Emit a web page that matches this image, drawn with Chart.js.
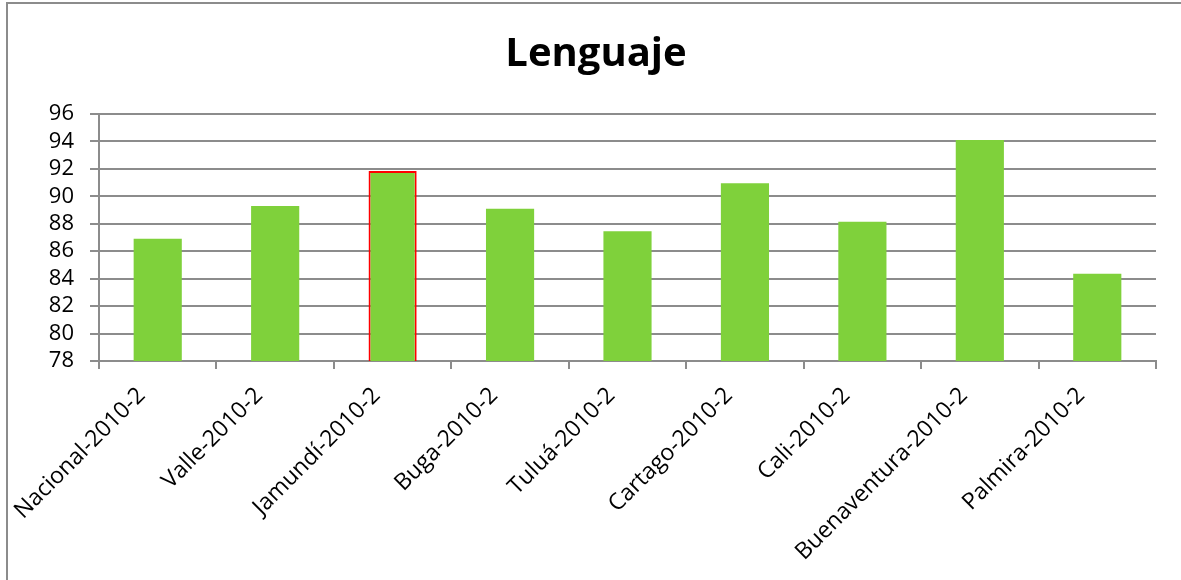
<!DOCTYPE html>
<html>
<head>
<meta charset="utf-8">
<script src="https://cdn.jsdelivr.net/npm/chart.js@4/dist/chart.umd.min.js"></script>
<style>
  html, body { margin: 0; padding: 0; background: #fff; }
  #wrap { position: relative; width: 1181px; height: 580px; overflow: hidden; }
  #frame { position: absolute; left: 6px; top: 2px; width: 1200px; height: 600px;
           border-left: 2px solid #8c8c8c; border-top: 2px solid #8c8c8c; }
  canvas { position: absolute; left: 0; top: 0; }
</style>
</head>
<body>
<div id="wrap">
  <div id="frame"></div>
  <canvas id="chart" width="1181" height="580"></canvas>
</div>
<script>
const categories = [
  "Nacional-2010-2", "Valle-2010-2", "Jamundí-2010-2", "Buga-2010-2",
  "Tuluá-2010-2", "Cartago-2010-2", "Cali-2010-2", "Buenaventura-2010-2", "Palmira-2010-2"
];
const scores = [86.9, 89.3, 91.85, 89.1, 87.45, 90.95, 88.15, 94.1, 84.35];
const highlighted = "Jamundí-2010-2";
const yTicks = [78, 80, 82, 84, 86, 88, 90, 92, 94, 96];

const green = "#7fd13b";
const gridGray = "#8c8c8c";

const ctx = document.getElementById("chart").getContext("2d");
new Chart(ctx, {
  type: "bar",
  data: {
    labels: categories,
    datasets: [{
      label: "Lenguaje",
      data: scores,
      backgroundColor: green,
      borderColor: categories.map(c => c === highlighted ? "#ff0000" : green),
      borderWidth: categories.map(c => c === highlighted ? 2 : 0),
      barPercentage: 0.41,
      categoryPercentage: 1.0,
    }],
  },
  options: {
    responsive: false,
    animation: false,
    layout: { padding: { left: 36, right: 25, top: 0, bottom: 0 } },
    plugins: {
      legend: { display: false },
      tooltip: { enabled: false },
      title: {
        display: true,
        text: "Lenguaje",
        color: "#000",
        font: { family: "Open Sans", size: 40, weight: "bold" },
        padding: { top: 31, bottom: 35 },
      },
    },
    scales: {
      x: {
        grid: {
          offset: true,
          drawOnChartArea: false,
          color: gridGray,
          lineWidth: 2,
          tickLength: 8,
        },
        border: { color: gridGray, width: 2 },
        ticks: {
          color: "#000",
          font: { family: "Open Sans", size: 23 },
          minRotation: 45,
          maxRotation: 45,
          autoSkip: false,
          padding: 13,
          labelOffset: -16,
        },
        afterFit: (scale) => { scale.height = 219; },
      },
      y: {
        min: 78,
        max: 96,
        afterBuildTicks: (scale) => { scale.ticks = yTicks.map(v => ({ value: v })); },
        grid: { color: gridGray, lineWidth: 2, tickLength: 9 },
        border: { color: gridGray, width: 2 },
        ticks: {
          color: "#000",
          font: { family: "Open Sans", size: 22 },
          padding: 16,
          autoSkip: false,
        },
        afterFit: (scale) => { scale.width = 63; },
      },
    },
  },
});
</script>
</body>
</html>
